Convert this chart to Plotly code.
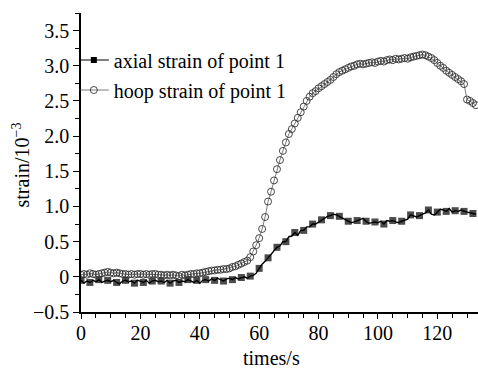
import plotly.graph_objects as go

# time (s), sampled every 1 s
time_s = list(range(0, 134))

hoop_strain = [
    0.03, 0.04, 0.03, 0.05, 0.04, 0.03, 0.04, 0.05, 0.06, 0.07,
    0.06, 0.05, 0.06, 0.05, 0.04, 0.04, 0.03, 0.04, 0.03, 0.04,
    0.04, 0.03, 0.04, 0.03, 0.04, 0.04, 0.03, 0.03, 0.02, 0.03,
    0.02, 0.03, 0.02, 0.01, 0.03, 0.02, 0.03, 0.04, 0.04, 0.05,
    0.05, 0.06, 0.07, 0.08, 0.09, 0.09, 0.10, 0.10, 0.11, 0.11,
    0.12, 0.14, 0.15, 0.17, 0.19, 0.21, 0.23, 0.28, 0.36, 0.45,
    0.55, 0.68, 0.85, 1.07, 1.21, 1.37, 1.53, 1.66, 1.79, 1.91,
    2.03, 2.10, 2.18, 2.26, 2.34, 2.42, 2.50, 2.56, 2.61, 2.64,
    2.68, 2.71, 2.74, 2.77, 2.80, 2.84, 2.88, 2.91, 2.93, 2.95,
    2.97, 2.99, 3.00, 3.02, 3.03, 3.02, 3.03, 3.04, 3.05, 3.04,
    3.06, 3.07, 3.06, 3.08, 3.09, 3.08, 3.10, 3.09, 3.10, 3.11,
    3.10, 3.12, 3.13, 3.14, 3.15, 3.16, 3.15, 3.13, 3.11, 3.08,
    3.04, 3.00, 2.97, 2.93, 2.90, 2.87, 2.84, 2.81, 2.78, 2.74,
    2.52, 2.50, 2.47, 2.44,
]

axial_strain = [
    -0.05, -0.09, -0.06, -0.08, -0.05, -0.07, -0.04, -0.08, -0.06, -0.05,
    -0.07, -0.05, -0.08, -0.10, -0.06, -0.05, -0.07, -0.06, -0.09, -0.05,
    -0.06, -0.08, -0.05, -0.09, -0.06, -0.05, -0.07, -0.06, -0.08, -0.05,
    -0.09, -0.06, -0.05, -0.08, -0.06, -0.07, -0.04, -0.06, -0.08, -0.05,
    -0.09, -0.05, -0.04, -0.06, -0.03, -0.05, -0.02, -0.04, -0.06, -0.03,
    -0.02, -0.04, -0.01, -0.03, -0.01, 0.00, -0.02, 0.01, 0.02, 0.05,
    0.12, 0.18, 0.22, 0.27, 0.32, 0.36, 0.42, 0.44, 0.50, 0.50,
    0.57, 0.58, 0.63, 0.59, 0.66, 0.66, 0.71, 0.71, 0.75, 0.75,
    0.78, 0.81, 0.84, 0.86, 0.87, 0.89, 0.88, 0.86, 0.84, 0.82,
    0.79, 0.77, 0.78, 0.80, 0.82, 0.83, 0.79, 0.76, 0.77, 0.78,
    0.77, 0.79, 0.75, 0.80, 0.79, 0.80, 0.78, 0.77, 0.79, 0.80,
    0.82, 0.88, 0.86, 0.85, 0.87, 0.89, 0.91, 0.95, 0.89, 0.88,
    0.92, 0.96, 0.95, 0.93, 0.97, 0.92, 0.94, 0.93, 0.95, 0.93,
    0.92, 0.91, 0.90, 0.89,
]

series_names = ["axial strain of point 1", "hoop strain of point 1"]

y_tickvals = [-0.5, 0, 0.5, 1.0, 1.5, 2.0, 2.5, 3.0, 3.5]
y_ticktext = ["\u22120.5", "0", "0.5", "1.0", "1.5", "2.0", "2.5", "3.0", "3.5"]
x_tickvals = [0, 20, 40, 60, 80, 100, 120]

FONT = "Liberation Serif"

axial_sizes = [7 if i % 3 == 0 else 0 for i in range(len(time_s))]

axial_line = dict(color="black", width=1.4)
axial_marker = dict(symbol="square", color="black", line=dict(width=0))
hoop_line = dict(color="#444", width=0.7)
hoop_marker = dict(symbol="circle-open", size=7, color="#333", line=dict(width=0.9))

fig = go.Figure()
# data traces
fig.add_trace(go.Scatter(
    x=time_s, y=axial_strain, mode="lines+markers",
    name=series_names[0], showlegend=False,
    line=axial_line, marker=dict(axial_marker, size=axial_sizes),
))
fig.add_trace(go.Scatter(
    x=time_s, y=hoop_strain, mode="lines+markers",
    name=series_names[1], showlegend=False,
    line=hoop_line, marker=hoop_marker,
))
# legend entries (no data drawn)
fig.add_trace(go.Scatter(
    x=[None], y=[None], mode="lines+markers", name=series_names[0],
    legendgroup="a", line=dict(color="black", width=1.0),
    marker=dict(axial_marker, size=6),
))
fig.add_trace(go.Scatter(
    x=[None], y=[None], mode="lines+markers", name=series_names[1],
    legendgroup="h", line=hoop_line, marker=hoop_marker,
))

fig.update_layout(
    width=478, height=371,
    margin=dict(l=81, r=0, t=13, b=59),
    paper_bgcolor="white", plot_bgcolor="white",
    font=dict(family=FONT, size=20, color="black"),
    showlegend=True,
    legend=dict(x=-0.018, y=0.908, xanchor="left", yanchor="top",
                bgcolor="rgba(0,0,0,0)", font=dict(family=FONT, size=20),
                itemwidth=30, traceorder="grouped", tracegroupgap=1),
    xaxis=dict(range=[0, 133.7], tickvals=x_tickvals,
               showline=True, linecolor="black", linewidth=1.5,
               ticks="outside", ticklen=5, tickwidth=1.3, tickcolor="black",
               ticklabelstandoff=-3,
               minor=dict(dtick=5, ticks="outside", ticklen=4, tickwidth=1.2,
                          tickcolor="black"),
               showgrid=False, zeroline=False, mirror=False,
               tickfont=dict(family=FONT, size=20)),
    yaxis=dict(range=[-0.5, 3.75], tickvals=y_tickvals, ticktext=y_ticktext,
               showline=True, linecolor="black", linewidth=1.5,
               ticks="outside", ticklen=6, tickwidth=1.3, tickcolor="black",
               minor=dict(dtick=0.25, tick0=0, ticks="outside", ticklen=4,
                          tickwidth=1.2, tickcolor="black"),
               showgrid=False, zeroline=False, mirror=False,
               tickfont=dict(family=FONT, size=20)),
    annotations=[
        dict(text="times/s", xref="paper", yref="paper", x=0.479, y=0,
             yshift=-46, showarrow=False, xanchor="center", yanchor="middle",
             font=dict(family=FONT, size=20)),
        dict(text="strain/10<sup>\u22123</sup>", xref="paper", yref="paper",
             x=0, xshift=-60, y=0.49, showarrow=False, textangle=-90,
             xanchor="center", yanchor="middle",
             font=dict(family=FONT, size=20)),
    ],
)

fig.write_html("out.html")
